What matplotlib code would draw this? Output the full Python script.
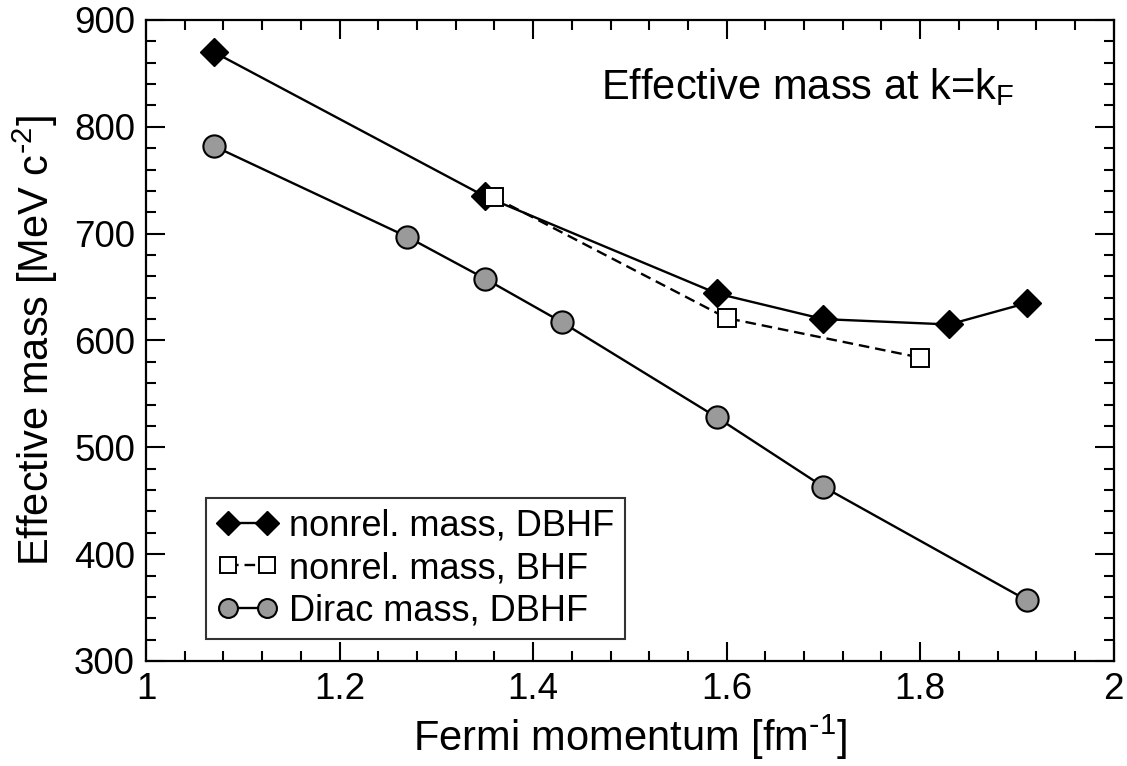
import matplotlib
matplotlib.use("Agg")
import matplotlib.pyplot as plt
from matplotlib.ticker import MultipleLocator

plt.rcParams['font.family'] = ['Liberation Sans', 'DejaVu Sans']
plt.rcParams['mathtext.default'] = 'regular'

# nonrelativistic effective mass, DBHF
kf_dbhf = [1.07, 1.35, 1.59, 1.70, 1.83, 1.91]
m_dbhf = [870, 735, 644, 620, 615, 635]

# nonrelativistic effective mass, BHF
kf_bhf = [1.36, 1.60, 1.80]
m_bhf = [734, 621, 584]

# Dirac mass, DBHF
kf_dirac = [1.07, 1.27, 1.35, 1.43, 1.59, 1.70, 1.91]
m_dirac = [782, 697, 658, 617, 528, 463, 357]

fig = plt.figure(figsize=(11.27, 7.66), dpi=100)
ax = fig.add_axes([0.1296, 0.1371, 0.8586, 0.8368])

ax.plot(kf_dbhf, m_dbhf, color='black', lw=1.7, marker='D', ms=14.5,
        mfc='black', mec='black', mew=1, label='nonrel. mass, DBHF')
ax.plot(kf_bhf, m_bhf, color='black', lw=1.7, ls=(0, (4.5, 2.5)), marker='s', ms=13,
        mfc='white', mec='black', mew=1.4, label='nonrel. mass, BHF')
ax.plot(kf_dirac, m_dirac, color='black', lw=1.7, marker='o', ms=16,
        mfc='#9a9a9a', mec='black', mew=1.5, label='Dirac mass, DBHF')

ax.set_xlim(1, 2)
ax.set_ylim(300, 900)
ax.xaxis.set_major_locator(MultipleLocator(0.2))
ax.xaxis.set_minor_locator(MultipleLocator(0.04))
ax.yaxis.set_major_locator(MultipleLocator(100))
ax.yaxis.set_minor_locator(MultipleLocator(20))
ax.xaxis.set_major_formatter(plt.FuncFormatter(lambda v, p: f'{v:g}'))

ax.tick_params(which='both', direction='in', top=True, right=True, width=1.5)
ax.tick_params(which='major', length=14, labelsize=26.5, pad=8)
ax.tick_params(which='minor', length=7)
for s in ax.spines.values():
    s.set_linewidth(1.6)

ax.set_xlabel(r'Fermi momentum [fm$^{\text{-}1}$]', fontsize=30, labelpad=4)
ax.set_ylabel(r'Effective mass [MeV c$^{\text{-}2}$]', fontsize=30, labelpad=10)

ax.text(0.897, 0.895, 'Effective mass at k=k$_F$', transform=ax.transAxes,
        ha='right', va='center', fontsize=30)

leg = ax.legend(loc='lower left', bbox_to_anchor=(0.062, 0.034), numpoints=2,
                fontsize=26, frameon=True, fancybox=False, handlelength=1.7,
                handletextpad=0.3, borderpad=0.3, labelspacing=0.2,
                borderaxespad=0.0, markerscale=0.85)
leg.get_frame().set_edgecolor('black')
leg.get_frame().set_linewidth(1.5)

fig.savefig('out.png', dpi=100)
